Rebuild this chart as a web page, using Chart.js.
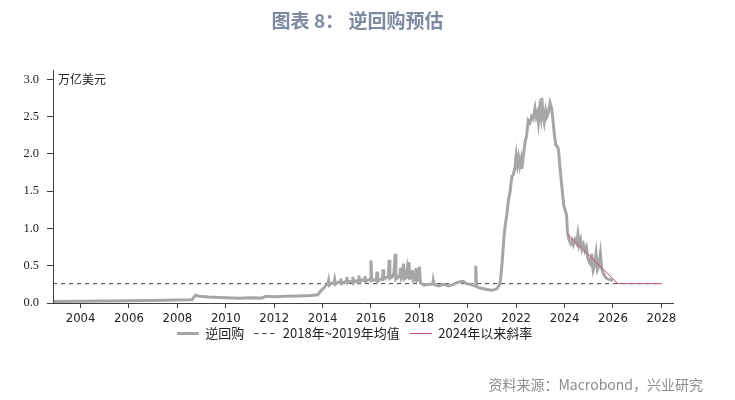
<!DOCTYPE html>
<html>
<head>
<meta charset="utf-8">
<script src="https://cdn.jsdelivr.net/npm/chart.js@4/dist/chart.umd.min.js"></script>
<style>
  body { margin: 0; background: #fff; }
  #wrap { position: relative; width: 735px; height: 400px; }
  #title { position: absolute; left: 0; width: 715px; top: 6px; text-align: center;
    font: bold 19px "Noto Sans CJK SC", sans-serif; color: #7d8aa0; }
  #unit { position: absolute; left: 58px; top: 70px;
    font: 12px "Noto Sans CJK SC", sans-serif; color: #222; }
  #source { position: absolute; right: 32px; top: 374px;
    font: 14px "Noto Sans CJK SC", "Noto Sans", sans-serif; color: #8c8c8c; }
</style>
</head>
<body>
<div id="wrap">
  <canvas id="myChart" width="735" height="400"></canvas>
  <div id="title">图表 8：&nbsp;逆回购预估</div>
  <div id="unit">万亿美元</div>
  <div id="source">资料来源：Macrobond，兴业研究</div>
</div>
<script>
// 逆回购 (万亿美元)
const repoDates = [
  2002.9, 2004.0, 2005.0, 2006.0, 2007.0, 2008.0, 2008.6, 2008.75, 2008.9, 2009.3,
  2010.0, 2010.5, 2011.0, 2011.5, 2011.65, 2012.0, 2012.5, 2013.0, 2013.5, 2013.8,
  2013.95, 2014.05, 2014.15, 2014.22, 2014.25, 2014.28, 2014.38, 2014.47, 2014.5, 2014.53,
  2014.65, 2014.72, 2014.75, 2014.78, 2014.9, 2014.97, 2015.0, 2015.03, 2015.12, 2015.22,
  2015.25, 2015.28, 2015.38, 2015.47, 2015.5, 2015.53, 2015.63, 2015.72, 2015.75, 2015.78,
  2015.9, 2015.97, 2016.0, 2016.03, 2016.13, 2016.22, 2016.25, 2016.28, 2016.38, 2016.47,
  2016.5, 2016.53, 2016.63, 2016.72, 2016.75, 2016.78, 2016.88, 2016.95, 2017.0, 2017.03,
  2017.13, 2017.19, 2017.22, 2017.25, 2017.31, 2017.34, 2017.37, 2017.45, 2017.49, 2017.52,
  2017.57, 2017.6, 2017.68, 2017.72, 2017.75, 2017.83, 2017.86, 2017.89, 2017.97, 2018.0,
  2018.04, 2018.2, 2018.4, 2018.55, 2018.57, 2018.6, 2018.8, 2019.0, 2019.2, 2019.4,
  2019.6, 2019.8, 2019.95, 2020.1, 2020.3, 2020.33, 2020.36, 2020.5, 2020.8, 2021.0,
  2021.2, 2021.3, 2021.35, 2021.42, 2021.5, 2021.55, 2021.62, 2021.68, 2021.75, 2021.82,
  2021.88, 2021.95, 2022.0, 2022.05, 2022.1, 2022.15, 2022.2, 2022.23, 2022.3, 2022.37,
  2022.43, 2022.5, 2022.57, 2022.64, 2022.7, 2022.78, 2022.83, 2022.88, 2022.92, 2022.97,
  2023.02, 2023.06, 2023.1, 2023.16, 2023.22, 2023.27, 2023.33, 2023.4, 2023.47, 2023.52,
  2023.58, 2023.64, 2023.7, 2023.75, 2023.8, 2023.86, 2023.92, 2023.97, 2024.02, 2024.08,
  2024.12, 2024.18, 2024.25, 2024.3, 2024.36, 2024.43, 2024.5, 2024.55, 2024.6, 2024.66,
  2024.72, 2024.78, 2024.84, 2024.9, 2024.96, 2025.02, 2025.08, 2025.12, 2025.18, 2025.24,
  2025.3, 2025.36, 2025.42, 2025.48, 2025.54, 2025.6, 2025.66, 2025.74, 2025.82, 2026.0
];
const repoValues = [
  0.02, 0.025, 0.028, 0.03, 0.035, 0.04, 0.045, 0.105, 0.09, 0.08,
  0.07, 0.065, 0.07, 0.068, 0.09, 0.085, 0.09, 0.095, 0.1, 0.11,
  0.17, 0.2, 0.24, 0.25, 0.3, 0.24, 0.27, 0.26, 0.31, 0.25,
  0.28, 0.27, 0.33, 0.26, 0.28, 0.29, 0.35, 0.27, 0.29, 0.28,
  0.35, 0.27, 0.3, 0.29, 0.37, 0.28, 0.31, 0.3, 0.36, 0.29,
  0.31, 0.32, 0.57, 0.3, 0.31, 0.3, 0.42, 0.29, 0.32, 0.32,
  0.45, 0.32, 0.34, 0.35, 0.58, 0.33, 0.35, 0.4, 0.66, 0.32,
  0.35, 0.36, 0.47, 0.33, 0.36, 0.53, 0.32, 0.34, 0.44, 0.33,
  0.55, 0.33, 0.34, 0.44, 0.3, 0.32, 0.47, 0.3, 0.32, 0.49,
  0.27, 0.24, 0.25, 0.25, 0.3, 0.25, 0.23, 0.25, 0.23, 0.25,
  0.28, 0.29, 0.26, 0.25, 0.23, 0.5, 0.22, 0.2, 0.18, 0.17,
  0.19, 0.24, 0.3, 0.55, 0.9, 1.05, 1.2, 1.38, 1.5, 1.7,
  1.72, 1.82, 1.98, 1.85, 1.95, 1.84, 1.92, 1.8, 1.98, 2.16,
  2.25, 2.45, 2.42, 2.5, 2.47, 2.61, 2.5, 2.55, 2.43, 2.6,
  2.5, 2.75, 2.55, 2.43, 2.58, 2.5, 2.55, 2.68, 2.6, 2.45,
  2.25, 2.12, 2.1, 2.05, 1.85, 1.65, 1.45, 1.3, 1.25, 1.18,
  0.95, 0.85, 0.8, 0.84, 0.78, 0.85, 0.8, 0.92, 0.78, 0.85,
  0.72, 0.78, 0.7, 0.75, 0.6, 0.55, 0.52, 0.66, 0.44, 0.5,
  0.66, 0.45, 0.5, 0.66, 0.45, 0.4, 0.36, 0.33, 0.32, 0.3
];
// 2018年~2019年均值
const avgDates = [2002.86, 2028.0];
const avgValues = [0.26, 0.26];
// 2024年以来斜率
const slopeDates = [2024.1, 2026.2, 2028.0];
const slopeValues = [0.93, 0.26, 0.26];

const xTicks = [2004, 2006, 2008, 2010, 2012, 2014, 2016, 2018, 2020, 2022, 2024, 2026, 2028];
const yTicks = [0, 0.5, 1.0, 1.5, 2.0, 2.5, 3.0];

function toPoints(xs, ys) {
  return xs.map((x, i) => ({ x: x, y: ys[i] }));
}

const axisColor = '#404040';

// legend sits a bit right of the plot centre and close under the axis in the original
const legendShift = {
  id: 'legendShift',
  afterLayout(chart) {
    if (chart.legend) {
      chart.legend.left += 18;
      chart.legend.right += 18;
      chart.legend.top -= 10;
      chart.legend.bottom -= 10;
    }
  }
};

new Chart(document.getElementById('myChart'), {
  type: 'line',
  data: {
    datasets: [{
      label: '逆回购',
      data: toPoints(repoDates, repoValues),
      borderColor: '#a6a6a6',
      backgroundColor: '#a6a6a6',
      borderWidth: 3,
      order: 1
    }, {
      label: '2018年~2019年均值',
      data: toPoints(avgDates, avgValues),
      borderColor: '#3c4252',
      backgroundColor: 'transparent',
      borderWidth: 1,
      borderDash: [4, 4],
      order: 2
    }, {
      label: '2024年以来斜率',
      data: toPoints(slopeDates, slopeValues),
      borderColor: '#c4506a',
      backgroundColor: 'transparent',
      borderWidth: 1,
      order: 0
    }]
  },
  options: {
    responsive: false,
    animation: false,
    devicePixelRatio: 1,
    layout: { padding: { top: 70, left: 0, right: 62, bottom: 40 } },
    elements: { point: { radius: 0 }, line: { tension: 0 } },
    plugins: {
      tooltip: { enabled: false },
      legend: {
        position: 'bottom',
        labels: {
          boxWidth: 22,
          boxHeight: 0,
          padding: 10,
          color: '#222',
          font: { family: '"Liberation Sans Narrow", "Noto Sans CJK SC", sans-serif', size: 13 },
          sort: (a, b) => a.datasetIndex - b.datasetIndex
        }
      }
    },
    scales: {
      x: {
        type: 'linear',
        min: 2002.86,
        max: 2028.48,
        afterBuildTicks: (scale) => { scale.ticks = xTicks.map(v => ({ value: v })); },
        afterFit: (scale) => { scale.height = 24; },
        grid: { display: true, drawOnChartArea: false, drawTicks: true, tickLength: 5, color: axisColor },
        border: { display: true, color: axisColor, width: 1 },
        ticks: {
          autoSkip: false,
          maxRotation: 0,
          padding: 3,
          color: '#222',
          font: { family: '"Liberation Sans Narrow", "DejaVu Sans Condensed", sans-serif', size: 13 },
          callback: (v) => String(v)
        }
      },
      y: {
        min: 0,
        max: 3.125,
        afterBuildTicks: (scale) => { scale.ticks = yTicks.map(v => ({ value: v })); },
        afterFit: (scale) => { scale.width = 53; },
        grid: { display: true, drawOnChartArea: false, drawTicks: true, tickLength: 6, color: axisColor },
        border: { display: true, color: axisColor, width: 1 },
        ticks: {
          padding: 8,
          color: '#222',
          font: { family: '"Liberation Serif", serif', size: 12.5 },
          callback: (v) => v.toFixed(1)
        }
      }
    }
  },
  plugins: [legendShift]
});
</script>
</body>
</html>
